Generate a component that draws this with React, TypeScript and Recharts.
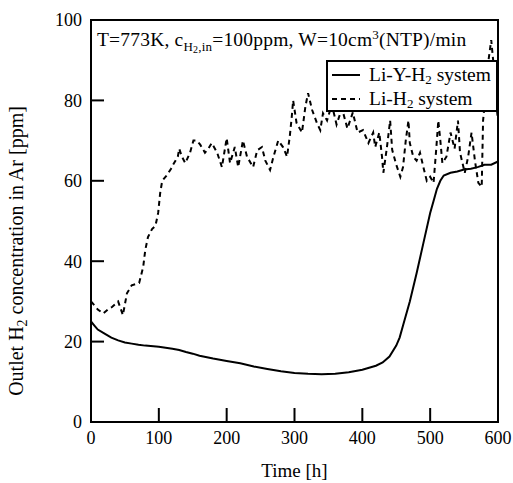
import { LineChart, Line, XAxis, YAxis, Legend, ReferenceArea } from 'recharts';

// Li-Y-H2 system (solid)
const liYTime = [0, 5, 10, 20, 30, 40, 50, 60, 70, 80, 100, 120, 130, 140, 150, 160, 180, 200, 220, 240, 260, 280, 300, 320, 340, 360, 380, 400, 410, 420, 430, 440, 450, 455, 460, 470, 480, 490, 500, 505, 510, 515, 520, 530, 540, 550, 560, 570, 580, 590, 600];
const liYConc = [25, 24, 23, 22, 21, 20.3, 19.8, 19.5, 19.2, 19, 18.7, 18.2, 17.9, 17.4, 17, 16.5, 15.8, 15.2, 14.6, 13.8, 13.2, 12.6, 12.2, 12, 11.9, 12, 12.4, 13, 13.5, 14, 14.8, 16.3, 19, 21, 24, 30, 37, 44.5, 52, 55, 58, 60, 61.3, 62, 62.3, 62.8, 63, 63.4, 64, 64, 64.8];

// Li-H2 system (dashed)
const liTime = [0, 5, 10, 18, 25, 31, 40, 47, 53, 60, 71, 77, 80, 84, 90, 95, 99, 102, 105, 112, 118, 121, 128, 130, 134, 139, 146, 151, 156, 161, 168, 173, 178, 186, 193, 200, 205, 212, 217, 224, 230, 239, 245, 252, 257, 264, 269, 276, 283, 289, 293, 296, 298, 303, 311, 316, 320, 326, 333, 338, 342, 348, 355, 362, 370, 378, 386, 393, 401, 409, 416, 419, 425, 429, 431, 436, 441, 444, 450, 456, 460, 464, 468, 470, 475, 480, 485, 490, 495, 500, 505, 509, 512, 515, 518, 524, 530, 536, 541, 544, 551, 556, 561, 566, 571, 576, 578, 582, 586, 590, 594, 597, 600];
const liConc = [30, 29, 28, 27, 28, 28.6, 30, 26.6, 32, 34, 34.6, 38.6, 42.8, 46, 48, 48.8, 52, 57, 60, 61.4, 63, 64, 66, 68, 66, 64.4, 67, 70, 70, 69, 67, 68, 69.4, 67, 63.4, 70.6, 64.4, 68.4, 63.4, 70, 66, 63.4, 67.6, 68.4, 65, 62.7, 66, 70, 68.4, 66, 71, 76, 80, 74.4, 72, 78.4, 81.8, 77.6, 74.4, 72.6, 76.8, 75, 79, 74, 78, 73, 77, 72, 72.6, 69.4, 72, 68.4, 72, 66, 62, 68, 75, 67.7, 64, 61, 63.4, 70, 75, 69.4, 66, 65, 67, 63.4, 60, 61, 59.5, 68, 75, 70, 64.4, 66, 72, 68, 75, 67, 62, 66, 72, 65, 59.5, 58.5, 75, 82, 90, 95, 88, 80, 75];

const xTicks = [0, 100, 200, 300, 400, 500, 600];
const yTicks = [0, 20, 40, 60, 80, 100];

const liYData = liYTime.map((t, i) => ({ t, v: liYConc[i] }));
const liData = liTime.map((t, i) => ({ t, v: liConc[i] }));

const FONT = "'Liberation Serif', 'Times New Roman', serif";

function YTick({ x, y, payload }: any) {
  return (
    <g>
      <line x1={x + 9} x2={x + 22} y1={y} y2={y} stroke="#000" strokeWidth={2} />
      <text x={x} y={y} dy="0.35em" textAnchor="end" fontSize={18} fontFamily={FONT} fill="#000">
        {payload.value}
      </text>
    </g>
  );
}

function XTick({ x, y, payload }: any) {
  return (
    <g>
      <line x1={x} x2={x} y1={y - 6} y2={y - 20} stroke="#000" strokeWidth={2} />
      <text x={x} y={y + 2} dy="0.75em" textAnchor="middle" fontSize={18} fontFamily={FONT} fill="#000">
        {payload.value}
      </text>
    </g>
  );
}

function YLabel({ viewBox }: any) {
  const cx = viewBox.x + 16;
  const cy = viewBox.y + viewBox.height / 2 + 30;
  return (
    <text x={cx} y={cy} transform={`rotate(-90, ${cx}, ${cy})`} textAnchor="middle" dy="0.35em" fontSize={20} fontFamily={FONT} fill="#000">
      Outlet H<tspan dy={4} fontSize={14}>2</tspan><tspan dy={-4}> concentration in Ar [ppm]</tspan>
    </text>
  );
}

function XLabel({ viewBox }: any) {
  return (
    <text x={viewBox.x + viewBox.width / 2} y={viewBox.y + 55} textAnchor="middle" fontSize={19} fontFamily={FONT} fill="#000">
      Time [h]
    </text>
  );
}

const subStyle = { fontSize: 13, verticalAlign: '-3px', lineHeight: 0 };

function LegendBox() {
  const row = (dash: string | undefined, label: any) => (
    <div style={{ display: 'flex', alignItems: 'center', height: 24 }}>
      <svg width={30} height={10} style={{ marginLeft: 4, marginRight: 7 }}>
        <line x1={0} x2={28} y1={5} y2={5} stroke="#000" strokeWidth={2} strokeDasharray={dash} />
      </svg>
      <span style={{ lineHeight: '18px', display: 'inline-block' }}>{label}</span>
    </div>
  );
  return (
    <div style={{ boxSizing: 'border-box', width: '100%', height: '100%', border: '2px solid #000', background: '#fff', fontFamily: FONT, fontSize: 19.5, color: '#000', paddingTop: 1, whiteSpace: 'nowrap' }}>
      {row(undefined, <>Li-Y-H<sub style={subStyle}>2</sub> system</>)}
      {row('5 4', <>Li-H<sub style={subStyle}>2</sub> system</>)}
    </div>
  );
}

export default function App() {
  return (
    <div style={{ position: 'absolute', left: 0, top: 0, width: 513, height: 483, background: '#fff' }}>
      <LineChart width={513} height={483} margin={{ top: 20, right: 15, left: 0, bottom: 0 }}>
        <XAxis
          type="number"
          dataKey="t"
          domain={[0, 600]}
          ticks={xTicks}
          height={61}
          tickSize={0}
          tickMargin={6}
          tick={<XTick />}
          axisLine={{ stroke: '#000', strokeWidth: 2 }}
          tickLine={false}
          allowDuplicatedCategory={false}
          label={{ content: XLabel }}
        />
        <YAxis
          type="number"
          domain={[0, 100]}
          ticks={yTicks}
          width={91}
          tickSize={0}
          tickMargin={9}
          tick={<YTick />}
          axisLine={{ stroke: '#000', strokeWidth: 2 }}
          tickLine={false}
          label={{ content: YLabel }}
        />
        <ReferenceArea x1={0} x2={600} y1={0} y2={100} fill="none" stroke="#000" strokeWidth={2} ifOverflow="visible" />
        <Line data={liData} dataKey="v" name="Li-H2 system" stroke="#000" strokeWidth={2} strokeDasharray="5 4" dot={false} isAnimationActive={false} type="linear" />
        <Line data={liYData} dataKey="v" name="Li-Y-H2 system" stroke="#000" strokeWidth={2} dot={false} isAnimationActive={false} type="linear" />
        <Legend
          layout="vertical"
          align="center"
          verticalAlign="middle"
          wrapperStyle={{ left: 326, top: 60, width: 172, height: 52 }}
          content={LegendBox}
        />
      </LineChart>
      <div style={{ position: 'absolute', left: 97, top: 30, fontFamily: FONT, fontSize: 19.5, lineHeight: '19px', color: '#000', whiteSpace: 'nowrap', letterSpacing: '0.2px' }}>
        T=773K, c<sub style={{ fontSize: 13, verticalAlign: '-5px', lineHeight: 0 }}>H<sub style={{ fontSize: 10, verticalAlign: '-2px', lineHeight: 0 }}>2</sub>,in</sub>=100ppm, W=10cm<sup style={{ fontSize: 13, verticalAlign: '7px', lineHeight: 0 }}>3</sup>(NTP)/min
      </div>
    </div>
  );
}
